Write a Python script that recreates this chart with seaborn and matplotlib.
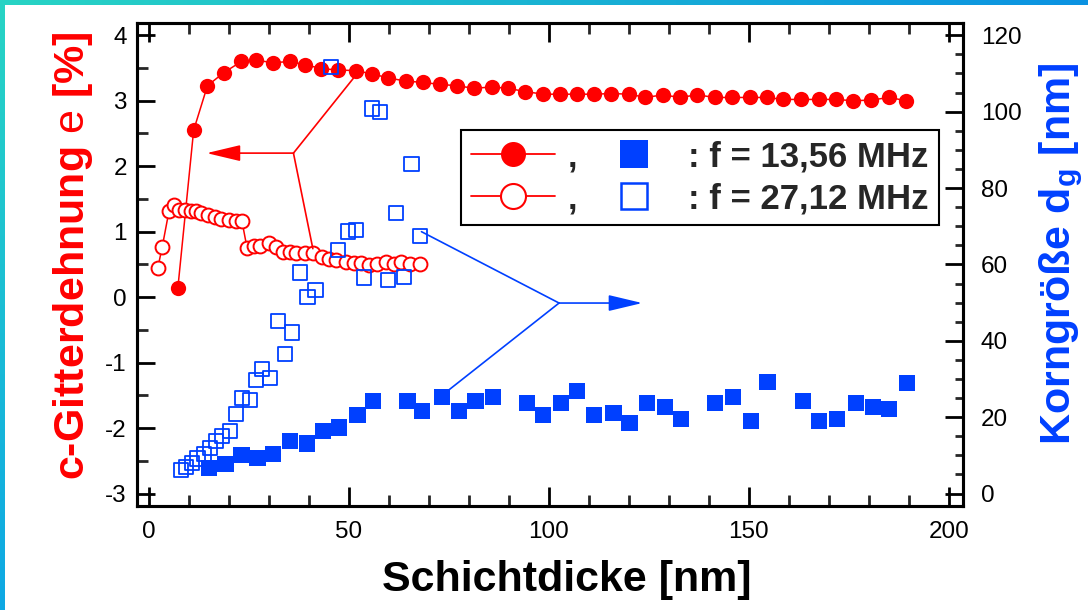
import numpy as np
import pandas as pd
import matplotlib
matplotlib.use("Agg")
import matplotlib.pyplot as plt
import seaborn as sns
from matplotlib.lines import Line2D
from matplotlib.ticker import MultipleLocator
from matplotlib.colors import LinearSegmentedColormap

# ---------------- data ----------------
# c-lattice strain (left axis), f = 13,56 MHz (filled circles)
red_filled_x = [7.3, 11.25, 14.7, 18.8, 23.2, 26.9, 31.1, 35.25, 39.2, 43.2, 47.3, 51.75, 55.9, 59.8,
                64.25, 68.6, 72.75, 77.0, 81.3, 85.8, 89.8, 94.2, 98.6, 102.9, 107.1, 111.4, 115.7,
                120.2, 124.2, 128.6, 132.8, 137.1, 141.6, 145.8, 150.25, 154.5, 158.7, 163.2, 167.5,
                171.9, 176.1, 180.6, 185.1, 189.4]
red_filled_y = [0.14, 2.55, 3.23, 3.43, 3.60, 3.62, 3.58, 3.60, 3.55, 3.49, 3.47, 3.46, 3.41, 3.35,
                3.30, 3.28, 3.25, 3.23, 3.19, 3.21, 3.19, 3.14, 3.10, 3.10, 3.10, 3.10, 3.11, 3.10,
                3.05, 3.09, 3.05, 3.09, 3.05, 3.05, 3.05, 3.05, 3.02, 3.02, 3.02, 3.02, 3.00, 3.01,
                3.05, 3.00]
# c-lattice strain (left axis), f = 27,12 MHz (open circles)
red_open_x = [2.3, 3.4, 5.1, 6.25, 7.6, 9.0, 10.5, 11.75, 13.2, 14.8, 16.5, 18.2, 20.1, 21.75, 23.3,
              24.6, 26.25, 27.9, 30.1, 31.9, 33.6, 35.25, 36.9, 39.0, 41.1, 43.4, 45.1, 46.9, 49.4,
              51.25, 53.2, 55.1, 57.1, 59.25, 61.25, 63.2, 65.25, 67.75]
red_open_y = [0.45, 0.77, 1.32, 1.41, 1.33, 1.33, 1.32, 1.31, 1.29, 1.26, 1.23, 1.20, 1.18, 1.17, 1.17,
              0.75, 0.78, 0.78, 0.82, 0.76, 0.69, 0.69, 0.68, 0.68, 0.67, 0.62, 0.58, 0.56, 0.53,
              0.52, 0.52, 0.49, 0.50, 0.53, 0.50, 0.54, 0.51, 0.50]
# grain size (right axis), f = 13,56 MHz (filled squares)
blue_filled_x = [15.1, 19.2, 23.2, 27.2, 31.1, 35.25, 39.6, 43.6, 47.6, 52.2, 56.1, 64.7, 68.4, 73.3,
                 77.5, 81.7, 86.1, 94.6, 98.6, 103.1, 107.1, 111.4, 116.2, 120.2, 124.6, 129.1, 133.1,
                 141.6, 146.1, 150.5, 154.7, 163.6, 167.6, 172.1, 176.8, 181.0, 185.1, 189.5]
blue_filled_y = [6.8, 7.8, 10.1, 9.4, 10.4, 13.8, 13.1, 16.4, 17.3, 20.5, 24.3, 24.3, 21.6, 25.3,
                 21.6, 24.3, 25.3, 23.7, 20.6, 23.7, 26.9, 20.6, 21.1, 18.5, 23.7, 22.7, 19.5,
                 23.7, 25.3, 19.0, 29.2, 24.3, 19.0, 19.5, 23.7, 22.7, 22.2, 29.0]
# grain size (right axis), f = 27,12 MHz (open squares)
blue_open_x = [8.0, 9.4, 10.8, 12.2, 13.75, 15.25, 16.75, 18.4, 20.25, 21.75, 23.4, 25.25, 26.75, 28.4,
               30.25, 32.25, 34.0, 35.8, 37.75, 39.7, 41.7, 45.5, 47.3, 49.8, 51.75, 53.75, 55.8,
               57.75, 59.8, 61.75, 63.75, 65.7, 67.75]
blue_open_y = [6.2, 7.0, 8.1, 9.2, 10.3, 12.0, 13.8, 15.1, 16.4, 20.8, 25.1, 24.4, 29.7, 32.6,
               30.2, 45.1, 36.5, 42.2, 57.9, 51.4, 53.3, 111.7, 63.8, 68.6, 69.0, 56.6, 100.8,
               99.9, 55.9, 73.4, 56.8, 86.3, 67.5]

legend_labels = [",", ",", ": f = 13,56 MHz", ": f = 27,12 MHz"]
xlabel = "Schichtdicke [nm]"
ylabel_left = r"c-Gitterdehnung $\mathrm{e}$ [%]"
ylabel_right = r"Korngröße $\mathbf{d}_\mathbf{g}$ [nm]"

# annotation pointers (left-axis data coordinates)
red_junction = (36.2, 2.20)
red_ends = [(51.4, 3.36), (41.05, 0.74)]
red_tip = (14.5, 2.20)
blue_junction = (102.6, -0.09)
blue_ends = [(68.2, 1.0), (75.2, -1.41)]
blue_tip = (123.4, -0.09)

# ---------------- style ----------------
sns.set_theme(style="white")
plt.rcParams['font.family'] = ['Liberation Sans', 'DejaVu Sans']
plt.rcParams['mathtext.fontset'] = 'custom'
plt.rcParams['mathtext.rm'] = 'Liberation Sans'
plt.rcParams['mathtext.bf'] = 'Liberation Sans:bold'
plt.rcParams['mathtext.it'] = 'Liberation Sans:italic'
plt.rcParams['axes.unicode_minus'] = False

RED = '#ff0000'
BLUE = '#0040ff'

fig = plt.figure(figsize=(10.88, 6.10), dpi=100)
fig.patch.set_facecolor('white')

# decorative gradient border (top and left)
cm_top = LinearSegmentedColormap.from_list('t', ['#28d4c4', '#0b92e2'])
cm_left = LinearSegmentedColormap.from_list('l', ['#28d4c4', '#0ea8e4'])
bt = fig.add_axes([0, 1 - 5 / 610, 1, 5 / 610])
bt.imshow(np.linspace(0, 1, 256)[None, :], cmap=cm_top, aspect='auto')
bt.axis('off')
bl = fig.add_axes([0, 0, 5 / 1088, 1])
bl.imshow(np.linspace(0, 1, 256)[:, None], cmap=cm_left, aspect='auto')
bl.axis('off')

ax = fig.add_axes([0.1256, 0.1705, 0.7592, 0.791])
ax2 = ax.twinx()

df_rf = pd.DataFrame({'x': red_filled_x, 'y': red_filled_y})
df_ro = pd.DataFrame({'x': red_open_x, 'y': red_open_y})
df_bf = pd.DataFrame({'x': blue_filled_x, 'y': blue_filled_y})
df_bo = pd.DataFrame({'x': blue_open_x, 'y': blue_open_y})

sns.lineplot(data=df_rf, x='x', y='y', ax=ax, color=RED, lw=1.1, marker='o', markersize=11,
             markeredgewidth=0, sort=False, estimator=None)
sns.lineplot(data=df_ro, x='x', y='y', ax=ax, color=RED, lw=1.1, marker='o', markersize=10,
             markerfacecolor='white', markeredgecolor=RED, markeredgewidth=1.4, sort=False,
             estimator=None)

# annotation arrows
for e in red_ends:
    ax.plot([red_junction[0], e[0]], [red_junction[1], e[1]], color=RED, lw=1.2)
ax.annotate('', xy=red_tip, xytext=red_junction,
            arrowprops=dict(arrowstyle='-|>,head_length=2.1,head_width=0.5', mutation_scale=10,
                            color=RED, lw=1.2, shrinkA=0, shrinkB=0))
for e in blue_ends:
    ax.plot([blue_junction[0], e[0]], [blue_junction[1], e[1]], color=BLUE, lw=1.2)
ax.annotate('', xy=blue_tip, xytext=blue_junction,
            arrowprops=dict(arrowstyle='-|>,head_length=2.1,head_width=0.5', mutation_scale=10,
                            color=BLUE, lw=1.2, shrinkA=0, shrinkB=0))

sns.scatterplot(data=df_bo, x='x', y='y', ax=ax2, marker='s', s=105, facecolors='none',
                edgecolor=BLUE, linewidth=1.3)
sns.scatterplot(data=df_bf, x='x', y='y', ax=ax2, marker='s', s=135, color=BLUE,
                edgecolor='none', linewidth=0)

# axes limits / ticks
ax.set_xlim(-3, 203.5)
ax.set_ylim(-3.19, 4.18)
ax2.set_ylim((-3.19 + 3) * 120 / 7, (4.18 + 3) * 120 / 7)

ax.xaxis.set_major_locator(MultipleLocator(50))
ax.xaxis.set_minor_locator(MultipleLocator(10))
ax.yaxis.set_major_locator(MultipleLocator(1))
ax.yaxis.set_minor_locator(MultipleLocator(0.5))
ax2.yaxis.set_major_locator(MultipleLocator(20))
ax2.yaxis.set_minor_locator(MultipleLocator(5))

TL = 17.5
ax.tick_params(axis='x', which='major', direction='in', top=True, bottom=True, length=14, width=2,
               labelsize=TL, pad=11, colors='black')
ax.tick_params(axis='x', which='minor', direction='in', top=True, bottom=True, length=8, width=2)
ax.tick_params(axis='y', which='major', direction='in', left=True, right=False, length=13, width=2,
               labelsize=TL, pad=7, colors='black')
ax.tick_params(axis='y', which='minor', direction='in', left=True, right=False, length=8, width=2)
ax2.tick_params(axis='y', which='major', direction='in', right=True, left=False, length=13, width=2,
                labelsize=TL, pad=13, colors='black')
ax2.tick_params(axis='y', which='minor', direction='in', right=True, left=False, length=6, width=2)

for a in (ax, ax2):
    for s in a.spines.values():
        s.set_visible(True)
        s.set_linewidth(2.2)
        s.set_color('black')
    a.grid(False)
ax.set_facecolor('white')
ax2.patch.set_visible(False)

ax.set_xlabel(xlabel, fontsize=31, fontweight='bold', color='black')
ax.xaxis.set_label_coords(0.521, -0.112)
ax.set_ylabel(ylabel_left, fontsize=31, fontweight='bold', color=RED)
ax.yaxis.set_label_coords(-0.0505, 0.519)
ax2.set_ylabel(ylabel_right, fontsize=31, fontweight='bold', color=BLUE)
ax2.yaxis.set_label_coords(1.091, 0.523)

# legend
h_rf = Line2D([], [], color=RED, lw=1.3, marker='o', markersize=18, markeredgewidth=0)
h_ro = Line2D([], [], color=RED, lw=1.3, marker='o', markersize=18, markerfacecolor='white',
              markeredgecolor=RED, markeredgewidth=1.5)
h_bf = Line2D([], [], ls='none', marker='s', markersize=20, color=BLUE, markeredgewidth=0)
h_bo = Line2D([], [], ls='none', marker='s', markersize=19, markerfacecolor='none',
              markeredgecolor=BLUE, markeredgewidth=1.8)
leg = ax2.legend(handles=[h_rf, h_ro, h_bf, h_bo], labels=legend_labels, ncol=2, loc='upper left',
                 bbox_to_anchor=(0.3926, 0.7793), prop={'weight': 'bold', 'size': 25},
                 frameon=True, fancybox=False, edgecolor='black', framealpha=1,
                 borderpad=0.3, handlelength=2.4, handletextpad=0.36, columnspacing=0.45,
                 labelspacing=0.25, borderaxespad=0, numpoints=1)
leg.get_frame().set_linewidth(1.5)

fig.savefig('out.png', dpi=100, facecolor='white')
